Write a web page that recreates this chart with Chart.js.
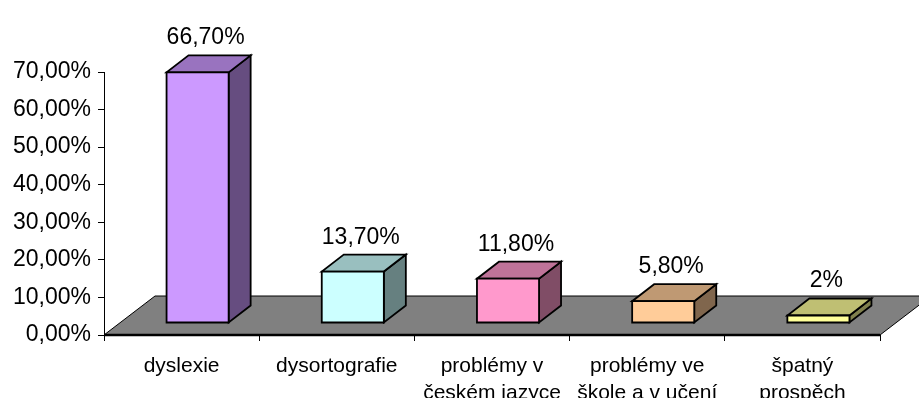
<!DOCTYPE html>
<html>
<head>
<meta charset="utf-8">
<script src="https://cdn.jsdelivr.net/npm/chart.js@4.4.1/dist/chart.umd.min.js"></script>
<style>
  body { margin: 0; background: #fff; }
  canvas { display: block; }
</style>
</head>
<body>
<canvas id="problemChart" width="919" height="398"></canvas>
<script>
// categories (multi-line like the original)
const categories = [
  "dyslexie",
  "dysortografie",
  ["problémy v", "českém jazyce"],
  ["problémy ve", "škole a v učení"],
  ["špatný", "prospěch"]
];
const shares = [66.7, 13.7, 11.8, 5.8, 2];
const yTicks = [0, 10, 20, 30, 40, 50, 60, 70];

const frontColors = ['#CC99FF', '#CCFFFF', '#FF99CC', '#FFCC99', '#FFFF99'];

// darken a hex colour by factor
function shade(hex, f) {
  const n = parseInt(hex.slice(1), 16);
  const r = Math.round(((n >> 16) & 255) * f);
  const g = Math.round(((n >> 8) & 255) * f);
  const b = Math.round((n & 255) * f);
  return `rgb(${r},${g},${b})`;
}

function fmtPct(v) {
  return v.toFixed(2).replace('.', ',') + '%';
}

function fmtLabel(v) {
  return Number.isInteger(v) ? v + '%' : fmtPct(v);
}

function poly(ctx, pts, fill) {
  ctx.beginPath();
  ctx.moveTo(pts[0][0], pts[0][1]);
  for (let i = 1; i < pts.length; i++) ctx.lineTo(pts[i][0], pts[i][1]);
  ctx.closePath();
  ctx.fillStyle = fill;
  ctx.fill();
  ctx.stroke();
}

// 3D floor + boxes, drawn from the bar elements' own positions
const box3d = {
  id: 'box3d',
  beforeDatasetsDraw(chart) {
    const ctx = chart.ctx;
    const area = chart.chartArea;
    const base = chart.scales.y.getPixelForValue(0);
    const dx = 51, dy = -39;
    ctx.save();
    ctx.strokeStyle = '#000';
    ctx.lineWidth = 1;
    poly(ctx, [
      [area.left, base], [area.right, base],
      [area.right + dx, base + dy], [area.left + dx, base + dy]
    ], '#808080');
    ctx.lineWidth = 2.5;
    ctx.beginPath();
    ctx.moveTo(area.left, base);
    ctx.lineTo(area.right, base);
    ctx.stroke();
    ctx.restore();
  },
  afterDatasetsDraw(chart) {
    const ctx = chart.ctx;
    const meta = chart.getDatasetMeta(0);
    const offX = 16, offY = -12, depX = 22, depY = -17;
    ctx.save();
    ctx.strokeStyle = '#000';
    ctx.lineWidth = 1.8;
    ctx.lineJoin = 'miter';
    meta.data.forEach((bar, i) => {
      const x0 = bar.x - bar.width / 2 + offX;
      const x1 = x0 + bar.width;
      const yt = bar.y + offY;
      const yb = bar.base + offY;
      const c = frontColors[i];
      poly(ctx, [[x1, yt], [x1 + depX, yt + depY], [x1 + depX, yb + depY], [x1, yb]], shade(c, 0.5));
      poly(ctx, [[x0, yt], [x1, yt], [x1 + depX, yt + depY], [x0 + depX, yt + depY]], shade(c, 0.75));
      poly(ctx, [[x0, yt], [x1, yt], [x1, yb], [x0, yb]], c);

      // value label above the box
      ctx.fillStyle = '#000';
      ctx.font = '23px "Liberation Sans", Arial, sans-serif';
      ctx.textAlign = 'center';
      ctx.textBaseline = 'alphabetic';
      ctx.fillText(fmtLabel(shares[i]), bar.x + offX + 8, yt + depY - 11);
    });
    ctx.restore();
  }
};

new Chart(document.getElementById('problemChart'), {
  type: 'bar',
  data: {
    labels: categories,
    datasets: [{
      data: shares,
      backgroundColor: 'rgba(0,0,0,0)',
      borderWidth: 0,
      barPercentage: 0.4,
      categoryPercentage: 1
    }]
  },
  options: {
    responsive: false,
    animation: false,
    layout: { padding: { top: 72, right: 39, left: 0, bottom: 0 } },
    plugins: {
      legend: { display: false },
      tooltip: { enabled: false }
    },
    scales: {
      x: {
        offset: true,
        grid: { display: true, drawOnChartArea: false, offset: true, color: '#000', tickLength: 6 },
        border: { display: false },
        ticks: {
          color: '#000',
          autoSkip: false,
          maxRotation: 0,
          padding: 12,
          font: { family: '"Liberation Sans", Arial, sans-serif', size: 21, lineHeight: 1.29 }
        },
        afterFit(scale) { scale.height = 63; }
      },
      y: {
        min: 0,
        max: 70,
        afterBuildTicks(scale) { scale.ticks = yTicks.map(v => ({ value: v })); },
        grid: { display: true, drawOnChartArea: false, color: '#000', tickLength: 6 },
        border: { display: true, color: '#000', width: 1 },
        ticks: {
          color: '#000',
          padding: 7,
          font: { family: '"Liberation Sans", Arial, sans-serif', size: 23 },
          callback: v => fmtPct(v)
        },
        afterFit(scale) { scale.width = 104; }
      }
    }
  },
  plugins: [box3d]
});
</script>
</body>
</html>
